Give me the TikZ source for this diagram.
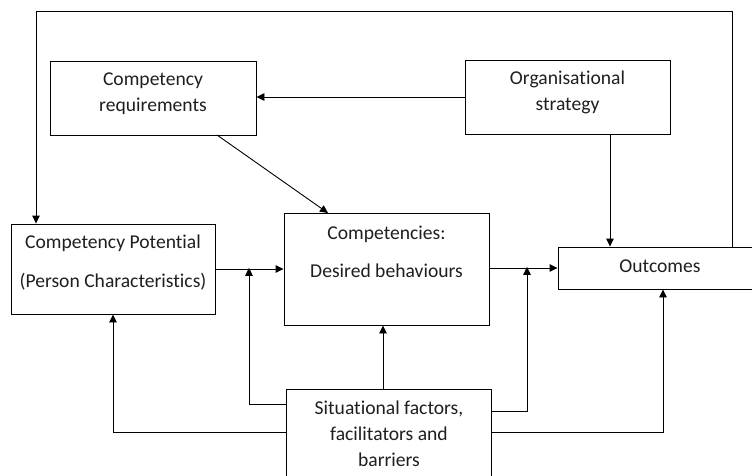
\documentclass[tikz,border=0pt]{standalone}
\usepackage{fontspec}
\setmainfont{Carlito}[Ligatures=NoCommon]
\usetikzlibrary{arrows.meta}
\begin{document}
\begin{tikzpicture}[x=1pt,y=-1pt,
  box/.style={draw=black,line width=0.9pt,rectangle,inner sep=0pt,fill=white},
  txt/.style={align=center,inner sep=0pt,font=\fontsize{19.6}{26}\selectfont,text=black!88},
  link/.style={draw=black,line width=0.9pt,-{Triangle[length=8pt,width=7.5pt]}},
  plain/.style={draw=black,line width=0.9pt}]
\useasboundingbox (0,0) rectangle (752,475);
\clip (0,0) rectangle (752,475);

% boxes
\node[box,minimum width=206pt,minimum height=74pt] (req) at (153,98) {};
\node[box,minimum width=205pt,minimum height=74pt] (org) at (567.5,97) {};
\node[box,minimum width=204pt,minimum height=90pt] (cp) at (113,269) {};
\node[box,minimum width=205pt,minimum height=112pt] (comp) at (386.5,269) {};
\node[box,minimum width=204pt,minimum height=42pt] (out) at (660,268) {};
\node[box,minimum width=205pt,minimum height=100pt] (sit) at (388.5,439) {};

% texts
\node[txt] (reqtext) at (153,93.5) {Competency\\requirements};
\node[txt] (orgtext) at (567.5,92.5) {Organisational\\strategy};
\node[txt] (cptext) at (113,263) {Competency Potential\\[13pt](Person Characteristics)};
\node[txt] (comptext) at (386.5,251.5) {Competencies:\\[12pt]Desired behaviours};
\node[txt] (outtext) at (660,266.5) {Outcomes};
\node[txt] (sittext) at (389,433.5) {Situational factors,\\facilitators and\\barriers};

% junction points on the two horizontal links
\coordinate (j1) at (249,269);
\coordinate (j2) at (527,268);

% connectors
\draw[link] (org.west |- 0,97) -- (req.east |- 0,97);
\draw[link] (217,135) -- (328,213);
\draw[link] (org.south -| 610,0) -- (out.north -| 610,0);
\draw[link] (out.north -| 732,0) -- (732,11) -- (36,11) -- (cp.north -| 36,0);
\draw[link] (cp.east |- 0,269) -- (comp.west |- 0,269);
\draw[link] (comp.east |- 0,268) -- (out.west |- 0,268);
\draw[link] (sit.north -| 383,0) -- (comp.south -| 383,0);
\draw[link] (sit.west |- 0,404) -- (249,404) -- ([yshift=1.2pt]j1);
\draw[link] (sit.west |- 0,432) -- (113,432) -- (cp.south -| 113,0);
\draw[link] (sit.east |- 0,411) -- (527,411) -- ([yshift=1.2pt]j2);
\draw[link] (sit.east |- 0,432) -- (663,432) -- (out.south -| 663,0);
\end{tikzpicture}
\end{document}
